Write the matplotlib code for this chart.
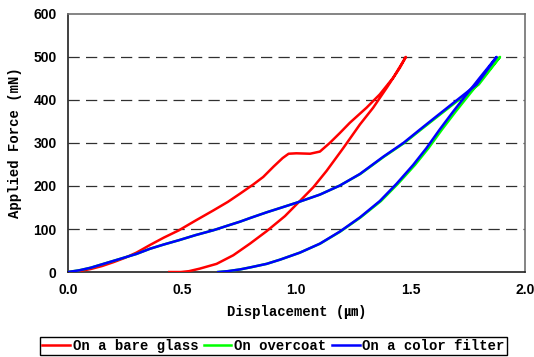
import numpy as np
import matplotlib.pyplot as plt

# load / unload paths (displacement um, force mN)
red_x = [0, 0.05, 0.1, 0.15, 0.2, 0.25, 0.3, 0.36, 0.42, 0.486, 0.56, 0.636, 0.7, 0.753, 0.81,
         0.855, 0.9, 0.94, 0.966, 1.0, 1.06, 1.103, 1.146, 1.19, 1.234, 1.307, 1.365, 1.424,
         1.479,
         1.453, 1.395, 1.336, 1.278, 1.205, 1.132, 1.074, 1.015, 0.95, 0.87, 0.797, 0.724,
         0.651, 0.578, 0.53, 0.495, 0.444]
red_y = [0, 2, 7, 14, 23, 33, 45, 63, 80, 97, 120, 143, 163, 182, 203,
         221, 245, 265, 275, 276, 275, 280, 300, 323, 347, 382, 413, 452,
         500,
         475, 428, 382, 343, 288, 235, 197, 165, 130, 95, 66, 39,
         19, 8, 2, 0, 0]

blue_x = [0, 0.05, 0.1, 0.15, 0.2, 0.25, 0.3, 0.359, 0.42, 0.486, 0.56, 0.636, 0.7, 0.753, 0.8,
          0.871, 0.93, 1.0, 1.103, 1.19, 1.278, 1.38, 1.468, 1.54, 1.613, 1.701, 1.789, 1.876,
          1.803, 1.745, 1.686, 1.628, 1.569, 1.511, 1.438, 1.365, 1.278, 1.19, 1.103, 1.015,
          0.93, 0.87, 0.8, 0.753, 0.7, 0.658]
blue_y = [0, 4, 10, 18, 26, 34, 42, 54, 64, 74, 86, 97, 108, 117, 126,
          139, 149, 161, 180, 201, 228, 268, 300, 331, 362, 399, 436, 500,
          452, 413, 373, 332, 288, 249, 205, 165, 127, 94, 66, 45,
          29, 19, 11, 6, 2, 0]

green_x = [0, 0.05, 0.1, 0.15, 0.2, 0.25, 0.3, 0.359, 0.42, 0.486, 0.56, 0.636, 0.7, 0.753, 0.8,
           0.871, 0.93, 1.0, 1.103, 1.19, 1.28, 1.383, 1.472, 1.545, 1.619, 1.708, 1.798, 1.891,
           1.816, 1.757, 1.697, 1.638, 1.578, 1.519, 1.444, 1.37, 1.281, 1.192, 1.104, 1.015,
           0.93, 0.87, 0.8, 0.753, 0.7, 0.658]
green_y = blue_y

labels = ['On a bare glass', 'On overcoat', 'On a color filter']

fig = plt.figure(figsize=(5.34, 3.57), dpi=100)
ax = fig.add_axes([0.127, 0.238, 0.856, 0.723])

ax.plot(red_x, red_y, color='#ff0000', lw=1.8, label=labels[0], zorder=3)
ax.plot(green_x, green_y, color='#00ff00', lw=1.8, label=labels[1], zorder=3)
ax.plot(blue_x, blue_y, color='#0000ff', lw=1.8, label=labels[2], zorder=4)

ax.set_xlim(0, 2.0)
ax.set_ylim(0, 600)
ax.set_xticks(np.arange(0, 2.01, 0.5))
ax.set_xticklabels(['0.0', '0.5', '1.0', '1.5', '2.0'])
ax.set_yticks(range(0, 601, 100))
for v in range(100, 600, 100):
    ax.axhline(v, color='#303030', lw=0.9, ls=(0, (9, 5)), zorder=1)

ax.tick_params(length=0, pad=8)
for lab in ax.get_xticklabels() + ax.get_yticklabels():
    lab.set_fontfamily('Liberation Sans')
    lab.set_fontweight('bold')
    lab.set_fontsize(10)

for s in ['left', 'bottom']:
    ax.spines[s].set_color('#202020')
    ax.spines[s].set_linewidth(1.2)
for s in ['top', 'right']:
    ax.spines[s].set_color('#707070')
    ax.spines[s].set_linewidth(1.2)

lab_font = dict(family=['Liberation Mono', 'Noto Sans CJK KR'], weight='bold', size=10)
ax.set_xlabel('Displacement (\u339b)', fontdict=lab_font, labelpad=6)
ax.set_ylabel('Applied Force (mN)', fontdict=lab_font, labelpad=8)

leg = fig.legend(loc='center', bbox_to_anchor=(0.512, 0.031), ncol=3,
                 prop=dict(family='Liberation Mono', weight='bold', size=10),
                 handlelength=2.0, handletextpad=0.2, columnspacing=0.4,
                 borderpad=0.15, borderaxespad=0, fancybox=False, framealpha=1)
leg.get_frame().set_edgecolor('black')
leg.get_frame().set_linewidth(1.0)

fig.savefig('out.png', dpi=100)
